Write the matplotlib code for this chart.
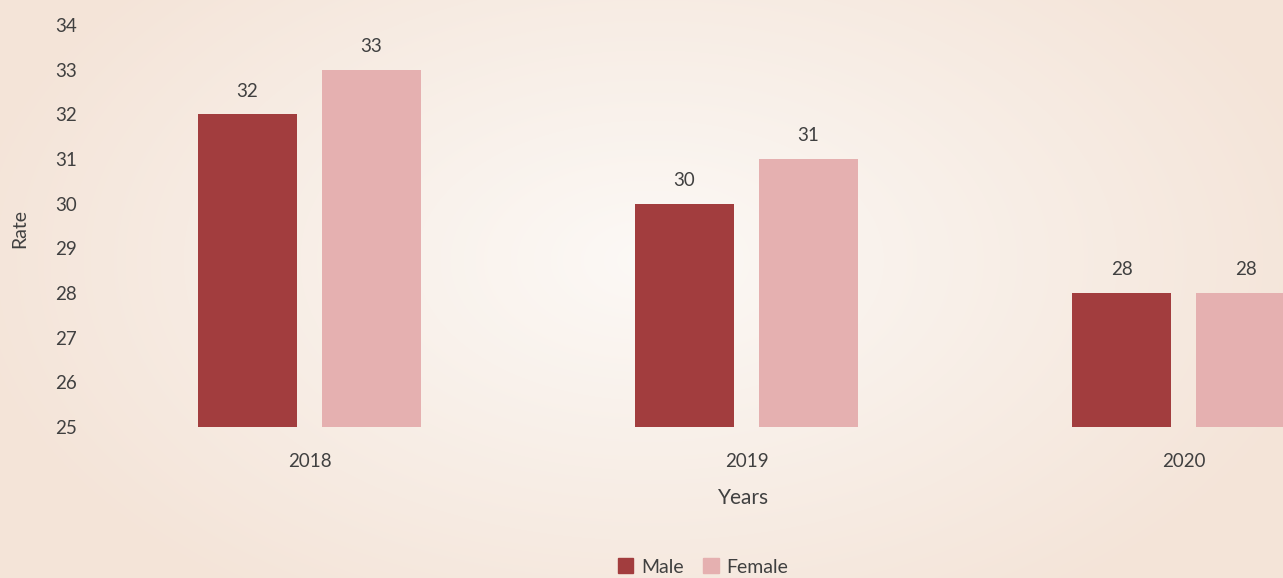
import numpy as np
import matplotlib.pyplot as plt
from matplotlib.patches import Patch

years = ['2018', '2019', '2020']
male = [32, 30, 28]
female = [33, 31, 28]
yticks = list(range(25, 35))

C = ['#A23D3E', '#E5B0B0']
txt = '#404040'
plt.rcParams['font.family'] = ['Lato', 'DejaVu Sans']

W, H = 1283, 578
fig = plt.figure(figsize=(W / 100, H / 100), dpi=100)

# radial background
bg = fig.add_axes([0, 0, 1, 1], zorder=-10)
yy, xx = np.mgrid[0:H, 0:W]
r = np.sqrt(((xx - 650) / 700.0) ** 2 + ((yy - 260) / 420.0) ** 2)
r = np.clip(r, 0, 1)
c0 = np.array([252, 249, 246]) / 255.
c1 = np.array([244, 228, 216]) / 255.
img = c0[None, None, :] * (1 - r[..., None]) + c1[None, None, :] * r[..., None]
bg.imshow(img, aspect='auto', extent=[0, 1, 0, 1])
bg.axis('off')

ax = fig.add_axes([91 / W, 151 / H, (W - 91) / W, 402 / H])
ax.patch.set_alpha(0)
x = np.arange(len(years))
bw = 99 / 437
off = 62 / 437
ax.bar(x - off, [m - 25 for m in male], bw, bottom=25, color=C[0], label='Male')
ax.bar(x + off, [f - 25 for f in female], bw, bottom=25, color=C[1], label='Female')
for xi, v in zip(x - off, male):
    ax.text(xi, v + 0.52, str(v), ha='center', va='center', fontsize=13.5, color=txt)
for xi, v in zip(x + off, female):
    ax.text(xi, v + 0.52, str(v), ha='center', va='center', fontsize=13.5, color=txt, clip_on=False)

ax.set_xlim(-0.5, (W - 91) / 437 - 0.5)
ax.set_ylim(25, 34)
ax.set_yticks(yticks)
ax.set_xticks(x)
ax.set_xticklabels(years)
ax.tick_params(length=0, labelsize=13.5, colors=txt)
ax.tick_params(axis='y', pad=10)
ax.tick_params(axis='x', pad=19)
for s in ax.spines.values():
    s.set_visible(False)
ax.set_xlabel('Years', fontsize=15, color=txt)
ax.xaxis.set_label_coords((744 - 91) / (W - 91), -(488 - 427) / 402)
fig.text(20 / W, 1 - 228 / H, 'Rate', rotation=90, ha='center', va='center', fontsize=14, color=txt)

handles = [Patch(color=C[0], label='Male'), Patch(color=C[1], label='Female')]
fig.legend(handles=handles, loc='center', bbox_to_anchor=(703 / W, 1 - 567 / H), ncol=2,
           frameon=False, fontsize=14, handlelength=0.8, handleheight=0.8,
           handletextpad=0.4, columnspacing=1.0, labelcolor=txt)

plt.savefig('out.png', dpi=100)
